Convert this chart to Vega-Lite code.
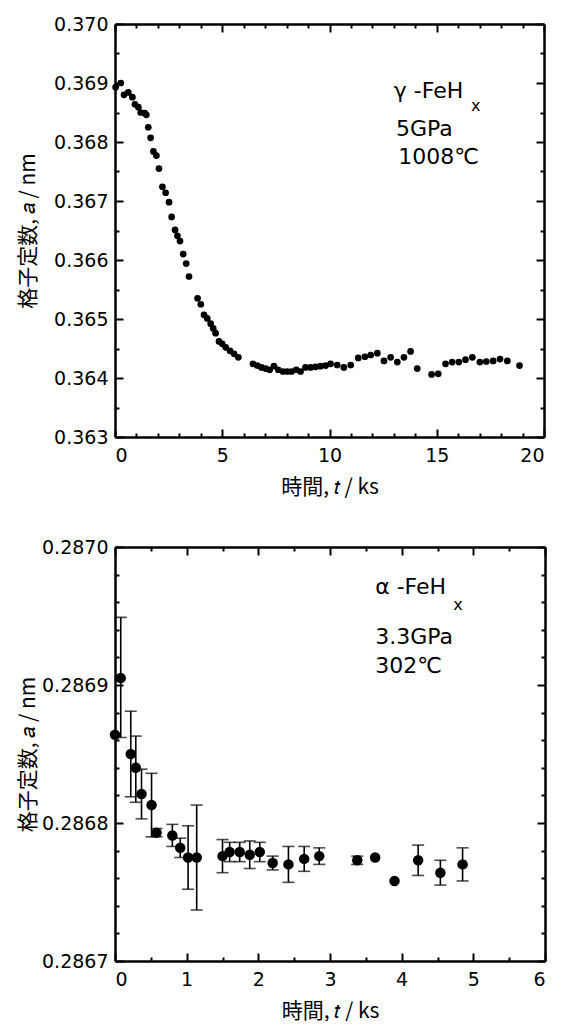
{
  "$schema": "https://vega.github.io/schema/vega-lite/v6.json",
  "background": "white",
  "padding": {"left": 17, "top": 15, "right": 5, "bottom": 0},
  "spacing": 41,
  "config": {
    "view": {"stroke": null},
    "axis": {
      "grid": false,
      "domainColor": "black",
      "domainWidth": 2.5,
      "tickColor": "black",
      "tickWidth": 2,
      "labelFont": "DejaVu Sans",
      "labelFontSize": 19,
      "labelColor": "black",
      "titleFont": "Noto Sans CJK JP",
      "titleFontSize": 21,
      "titleFontWeight": "normal",
      "titleColor": "black"
    },
    "text": {"font": "DejaVu Sans", "fontSize": 22, "color": "black", "align": "left", "baseline": "middle"}
  },
  "vconcat": [
    {
      "width": 429,
      "height": 413,
      "data": {"values": [
        {"t": 0.03, "a": 0.36893}, {"t": 0.27, "a": 0.369}, {"t": 0.42, "a": 0.3688}, {"t": 0.62, "a": 0.36884},
        {"t": 0.81, "a": 0.36876}, {"t": 0.93, "a": 0.36864}, {"t": 1.09, "a": 0.36859}, {"t": 1.2, "a": 0.3685},
        {"t": 1.39, "a": 0.36849}, {"t": 1.46, "a": 0.36846}, {"t": 1.55, "a": 0.36825}, {"t": 1.66, "a": 0.36807},
        {"t": 1.79, "a": 0.36784}, {"t": 1.93, "a": 0.36777}, {"t": 2.05, "a": 0.36755}, {"t": 2.21, "a": 0.36724},
        {"t": 2.36, "a": 0.36714}, {"t": 2.52, "a": 0.36698}, {"t": 2.64, "a": 0.36673}, {"t": 2.8, "a": 0.36651},
        {"t": 2.91, "a": 0.36641}, {"t": 3.03, "a": 0.36632}, {"t": 3.18, "a": 0.3661}, {"t": 3.32, "a": 0.36594},
        {"t": 3.45, "a": 0.36572}, {"t": 3.85, "a": 0.36535}, {"t": 4.0, "a": 0.36525}, {"t": 4.15, "a": 0.36507},
        {"t": 4.3, "a": 0.36501}, {"t": 4.46, "a": 0.36492}, {"t": 4.58, "a": 0.36484}, {"t": 4.69, "a": 0.36476},
        {"t": 4.85, "a": 0.36462}, {"t": 5.0, "a": 0.36458}, {"t": 5.16, "a": 0.36452}, {"t": 5.36, "a": 0.36446},
        {"t": 5.55, "a": 0.36441}, {"t": 5.75, "a": 0.36435}, {"t": 6.43, "a": 0.36424}, {"t": 6.63, "a": 0.36421},
        {"t": 6.83, "a": 0.36418}, {"t": 7.02, "a": 0.36416}, {"t": 7.21, "a": 0.36414}, {"t": 7.41, "a": 0.3642},
        {"t": 7.61, "a": 0.36414}, {"t": 7.83, "a": 0.36411}, {"t": 8.03, "a": 0.36411}, {"t": 8.23, "a": 0.36411},
        {"t": 8.45, "a": 0.36414}, {"t": 8.65, "a": 0.36411}, {"t": 8.88, "a": 0.36418}, {"t": 9.12, "a": 0.36418},
        {"t": 9.35, "a": 0.36419}, {"t": 9.58, "a": 0.3642}, {"t": 9.82, "a": 0.36421}, {"t": 10.05, "a": 0.36424},
        {"t": 10.36, "a": 0.36422}, {"t": 10.67, "a": 0.36418}, {"t": 10.99, "a": 0.36422}, {"t": 11.34, "a": 0.36434},
        {"t": 11.65, "a": 0.36436}, {"t": 11.92, "a": 0.36439}, {"t": 12.23, "a": 0.36442}, {"t": 12.54, "a": 0.36429},
        {"t": 12.85, "a": 0.36435}, {"t": 13.16, "a": 0.36427}, {"t": 13.47, "a": 0.36435}, {"t": 13.78, "a": 0.36445},
        {"t": 14.09, "a": 0.36416}, {"t": 14.76, "a": 0.36406}, {"t": 15.07, "a": 0.36407}, {"t": 15.41, "a": 0.36424},
        {"t": 15.72, "a": 0.36427}, {"t": 16.03, "a": 0.36427}, {"t": 16.34, "a": 0.36431}, {"t": 16.66, "a": 0.36435},
        {"t": 17.01, "a": 0.36427}, {"t": 17.31, "a": 0.36428}, {"t": 17.63, "a": 0.36429}, {"t": 17.95, "a": 0.36432},
        {"t": 18.29, "a": 0.36429}, {"t": 18.86, "a": 0.36421}
      ]},
      "layer": [
        {
          "mark": {"type": "circle", "color": "black", "size": 45, "opacity": 1},
          "encoding": {
            "x": {"field": "t", "type": "quantitative", "scale": {"domain": [0, 20], "nice": false, "zero": false},
              "axis": {"orient": "bottom", "values": [0, 5, 10, 15, 20], "format": "d", "tickSize": -8, "labelPadding": 17, "title": "時間, 𝑡 / ks", "titlePadding": 11}},
            "y": {"field": "a", "type": "quantitative", "scale": {"domain": [0.363, 0.37], "nice": false, "zero": false},
              "axis": {"orient": "left", "values": [0.363, 0.364, 0.365, 0.366, 0.367, 0.368, 0.369, 0.37], "format": ".3f", "tickSize": -8, "labelPadding": 15, "title": "格子定数, 𝑎 / nm", "titlePadding": 15}}
          }
        },
        {
          "mark": {"type": "circle", "opacity": 0},
          "encoding": {
            "x": {"field": "t", "type": "quantitative", "axis": {"orient": "bottom", "values": [1, 2, 3, 4, 6, 7, 8, 9, 11, 12, 13, 14, 16, 17, 18, 19], "tickSize": -4, "labels": false, "domain": false, "title": null}},
            "y": {"field": "a", "type": "quantitative", "axis": {"orient": "left", "values": [0.3635, 0.3645, 0.3655, 0.3665, 0.3675, 0.3685, 0.3695], "tickSize": -4, "labels": false, "domain": false, "title": null}}
          }
        },
        {
          "mark": {"type": "circle", "opacity": 0},
          "encoding": {
            "x": {"field": "t", "type": "quantitative", "axis": {"orient": "top", "values": [0, 5, 10, 15, 20], "tickSize": -8, "labels": false, "title": null}},
            "y": {"field": "a", "type": "quantitative", "axis": {"orient": "right", "values": [0.363, 0.364, 0.365, 0.366, 0.367, 0.368, 0.369, 0.37], "tickSize": -8, "labels": false, "title": null}}
          }
        },
        {
          "mark": {"type": "circle", "opacity": 0},
          "encoding": {
            "x": {"field": "t", "type": "quantitative", "axis": {"orient": "top", "values": [1, 2, 3, 4, 6, 7, 8, 9, 11, 12, 13, 14, 16, 17, 18, 19], "tickSize": -4, "labels": false, "domain": false, "title": null}},
            "y": {"field": "a", "type": "quantitative", "axis": {"orient": "right", "values": [0.3635, 0.3645, 0.3655, 0.3665, 0.3675, 0.3685, 0.3695], "tickSize": -4, "labels": false, "domain": false, "title": null}}
          }
        },
        {
          "data": {"values": [
            {"t": 13.0, "a": 0.368864, "label": "γ -FeH", "size": 22},
            {"t": 16.6, "a": 0.36861, "label": "x", "size": 16},
            {"t": 13.1, "a": 0.36822, "label": "5GPa", "size": 22},
            {"t": 13.2, "a": 0.367746, "label": "1008℃", "size": 22}
          ]},
          "mark": {"type": "text"},
          "encoding": {
            "x": {"field": "t", "type": "quantitative", "axis": null},
            "y": {"field": "a", "type": "quantitative", "axis": null},
            "text": {"field": "label"},
            "size": {"field": "size", "type": "quantitative", "scale": null}
          }
        }
      ],
      "resolve": {"axis": {"x": "independent", "y": "independent"}}
    },
    {
      "width": 430,
      "height": 414,
      "data": {"values": [
        {"t": 0.0, "a": 0.286864},
        {"t": 0.08, "a": 0.286905, "lo": 0.286862, "hi": 0.286949},
        {"t": 0.22, "a": 0.28685, "lo": 0.286819, "hi": 0.286881},
        {"t": 0.29, "a": 0.28684, "lo": 0.286815, "hi": 0.286863},
        {"t": 0.37, "a": 0.286821, "lo": 0.286803, "hi": 0.286839},
        {"t": 0.51, "a": 0.286813, "lo": 0.28679, "hi": 0.286836},
        {"t": 0.58, "a": 0.286793, "lo": 0.28679, "hi": 0.286796},
        {"t": 0.8, "a": 0.286791, "lo": 0.286783, "hi": 0.286799},
        {"t": 0.91, "a": 0.286782, "lo": 0.286775, "hi": 0.286789},
        {"t": 1.02, "a": 0.286775, "lo": 0.286752, "hi": 0.286798},
        {"t": 1.14, "a": 0.286775, "lo": 0.286737, "hi": 0.286813},
        {"t": 1.5, "a": 0.286776, "lo": 0.286764, "hi": 0.286788},
        {"t": 1.6, "a": 0.286779, "lo": 0.286772, "hi": 0.286786},
        {"t": 1.74, "a": 0.286779, "lo": 0.286772, "hi": 0.286786},
        {"t": 1.88, "a": 0.286777, "lo": 0.286767, "hi": 0.286787},
        {"t": 2.02, "a": 0.286779, "lo": 0.286772, "hi": 0.286786},
        {"t": 2.2, "a": 0.286771, "lo": 0.286766, "hi": 0.286776},
        {"t": 2.42, "a": 0.28677, "lo": 0.286757, "hi": 0.286783},
        {"t": 2.64, "a": 0.286774, "lo": 0.286765, "hi": 0.286783},
        {"t": 2.85, "a": 0.286776, "lo": 0.28677, "hi": 0.286782},
        {"t": 3.38, "a": 0.286773, "lo": 0.28677, "hi": 0.286776},
        {"t": 3.63, "a": 0.286775},
        {"t": 3.9, "a": 0.286758},
        {"t": 4.23, "a": 0.286773, "lo": 0.286762, "hi": 0.286784},
        {"t": 4.54, "a": 0.286764, "lo": 0.286755, "hi": 0.286773},
        {"t": 4.85, "a": 0.28677, "lo": 0.286758, "hi": 0.286782}
      ]},
      "layer": [
        {
          "transform": [{"filter": "isValid(datum.lo)"}],
          "mark": {"type": "errorbar", "color": "black", "thickness": 1.6, "ticks": {"size": 12, "thickness": 1.6, "color": "black"}},
          "encoding": {
            "x": {"field": "t", "type": "quantitative", "axis": null, "scale": {"domain": [0, 6], "nice": false, "zero": false}},
            "y": {"field": "lo", "type": "quantitative", "axis": null, "scale": {"domain": [0.2867, 0.287], "nice": false, "zero": false}},
            "y2": {"field": "hi"}
          }
        },
        {
          "mark": {"type": "circle", "color": "black", "size": 110, "opacity": 1},
          "encoding": {
            "x": {"field": "t", "type": "quantitative", "scale": {"domain": [0, 6], "nice": false, "zero": false},
              "axis": {"orient": "bottom", "values": [0, 1, 2, 3, 4, 5, 6], "format": "d", "tickSize": -8, "labelPadding": 17, "title": "時間, 𝑡 / ks", "titlePadding": 11}},
            "y": {"field": "a", "type": "quantitative", "scale": {"domain": [0.2867, 0.287], "nice": false, "zero": false},
              "axis": {"orient": "left", "values": [0.2867, 0.2868, 0.2869, 0.287], "format": ".4f", "tickSize": -8, "labelPadding": 15, "title": "格子定数, 𝑎 / nm", "titlePadding": 3}}
          }
        },
        {
          "mark": {"type": "circle", "opacity": 0},
          "encoding": {
            "x": {"field": "t", "type": "quantitative", "axis": {"orient": "bottom", "values": [0.5, 1.5, 2.5, 3.5, 4.5, 5.5], "tickSize": -4, "labels": false, "domain": false, "title": null}},
            "y": {"field": "a", "type": "quantitative", "axis": {"orient": "left", "values": [0.28672, 0.28674, 0.28676, 0.28678, 0.28682, 0.28684, 0.28686, 0.28688, 0.28692, 0.28694, 0.28696, 0.28698], "tickSize": -4, "labels": false, "domain": false, "title": null}}
          }
        },
        {
          "mark": {"type": "circle", "opacity": 0},
          "encoding": {
            "x": {"field": "t", "type": "quantitative", "axis": {"orient": "top", "values": [0, 1, 2, 3, 4, 5, 6], "tickSize": -8, "labels": false, "title": null}},
            "y": {"field": "a", "type": "quantitative", "axis": {"orient": "right", "values": [0.2867, 0.2868, 0.2869, 0.287], "tickSize": -8, "labels": false, "title": null}}
          }
        },
        {
          "mark": {"type": "circle", "opacity": 0},
          "encoding": {
            "x": {"field": "t", "type": "quantitative", "axis": {"orient": "top", "values": [0.5, 1.5, 2.5, 3.5, 4.5, 5.5], "tickSize": -4, "labels": false, "domain": false, "title": null}},
            "y": {"field": "a", "type": "quantitative", "axis": {"orient": "right", "values": [0.28672, 0.28674, 0.28676, 0.28678, 0.28682, 0.28684, 0.28686, 0.28688, 0.28692, 0.28694, 0.28696, 0.28698], "tickSize": -4, "labels": false, "domain": false, "title": null}}
          }
        },
        {
          "data": {"values": [
            {"t": 3.63, "a": 0.286971, "label": "α -FeH", "size": 22},
            {"t": 4.72, "a": 0.286958, "label": "x", "size": 16},
            {"t": 3.63, "a": 0.286935, "label": "3.3GPa", "size": 22},
            {"t": 3.63, "a": 0.286914, "label": "302℃", "size": 22}
          ]},
          "mark": {"type": "text"},
          "encoding": {
            "x": {"field": "t", "type": "quantitative", "axis": null},
            "y": {"field": "a", "type": "quantitative", "axis": null},
            "text": {"field": "label"},
            "size": {"field": "size", "type": "quantitative", "scale": null}
          }
        }
      ],
      "resolve": {"axis": {"x": "independent", "y": "independent"}}
    }
  ]
}
